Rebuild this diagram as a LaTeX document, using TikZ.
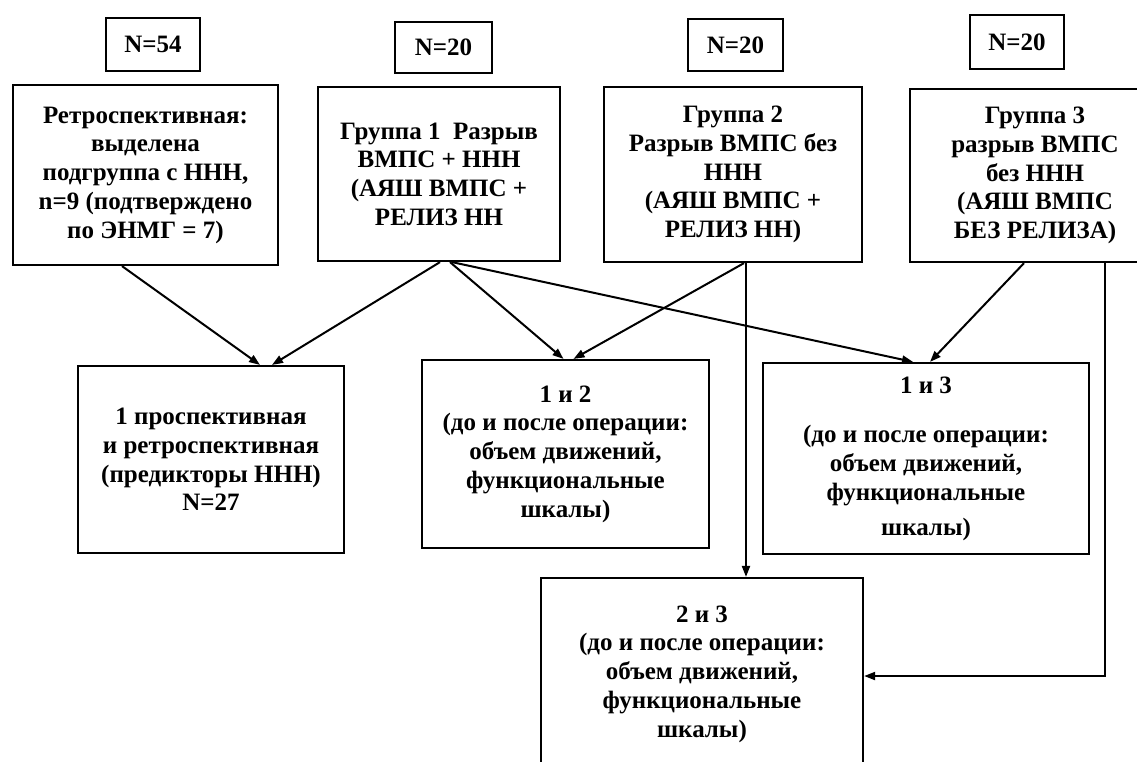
\documentclass[tikz,border=0pt]{standalone}
\usepackage{fontspec}
\setmainfont{Liberation Serif}
\usetikzlibrary{arrows.meta}
\begin{document}
\begin{tikzpicture}[x=1pt,y=-1pt,
  box/.style={draw=black,line width=2.2pt,inner sep=0pt,align=center,
    font=\bfseries\fontsize{25}{28.75}\selectfont},
  arr/.style={line width=2pt,-{Triangle[length=11pt,width=8pt]}}]
\clip (0,0) rectangle (1137,761);
\fill[white] (0,0) rectangle (1137,761);
% count boxes
\node[box,minimum width=94pt,minimum height=53pt] (n54) at (153,44.5) {N=54};
\node[box,minimum width=97pt,minimum height=51pt] (n20a) at (443.5,47.5) {N=20};
\node[box,minimum width=95pt,minimum height=52pt] (n20b) at (735.5,45) {N=20};
\node[box,minimum width=94pt,minimum height=54pt] (n20c) at (1017,42) {N=20};
% top boxes
\node[box,minimum width=265pt,minimum height=180pt] (retro) at (145.5,175)
  {Ретроспективная:\\выделена\\подгруппа с ННН,\\n=9 (подтверждено\\по ЭНМГ = 7)};
\node[box,minimum width=242pt,minimum height=174pt] (g1) at (439,174)
  {Группа 1\ \ Разрыв\\ВМПС + ННН\\(АЯШ ВМПС +\\РЕЛИЗ НН};
\node[box,minimum width=258pt,minimum height=175pt] (g2) at (733,174.5)
  {Группа 2\\Разрыв ВМПС без\\ННН\\(АЯШ ВМПС +\\РЕЛИЗ НН)};
\node[box,minimum width=250pt,minimum height=173pt] (g3) at (1035,175.5)
  {Группа 3\\разрыв ВМПС\\без ННН\\(АЯШ ВМПС\\БЕЗ РЕЛИЗА)};
% lower boxes
\node[box,minimum width=266pt,minimum height=187pt] (p1) at (211,459.5)
  {1 проспективная\\и ретроспективная\\(предикторы ННН)\\N=27};
\node[box,minimum width=287pt,minimum height=188pt] (b12) at (565.5,454)
  {1 и 2\\(до и после операции:\\объем движений,\\функциональные\\шкалы)};
\node[box,minimum width=326pt,minimum height=191pt] (b13) at (926,458.5)
  {1 и 3\\[21pt](до и после операции:\\объем движений,\\функциональные\\[6pt]шкалы)};
\node[box,minimum width=322pt,minimum height=192pt] (b23) at (702,674)
  {2 и 3\\(до и после операции:\\объем движений,\\функциональные\\шкалы)};
% connectors
\draw[arr] ([xshift=-23.5pt]retro.south) -- ([xshift=49pt]p1.north);
\draw[arr] ([xshift=1pt]g1.south) -- ([xshift=61pt]p1.north);
\draw[arr] ([xshift=11pt]g1.south) -- ([xshift=-2pt]b12.north);
\draw[arr] ([xshift=13pt]g1.south) -- ([xshift=-13pt]b13.north);
\draw[arr] ([xshift=11pt]g2.south) -- ([xshift=8pt]b12.north);
\draw[arr] ([xshift=13pt]g2.south) -- ([xshift=44pt]b23.north);
\draw[arr] ([xshift=-11pt]g3.south) -- ([xshift=4pt]b13.north);
\draw[arr] ([xshift=70pt]g3.south) |- ([yshift=-2pt]b23.east);
\end{tikzpicture}
\end{document}
